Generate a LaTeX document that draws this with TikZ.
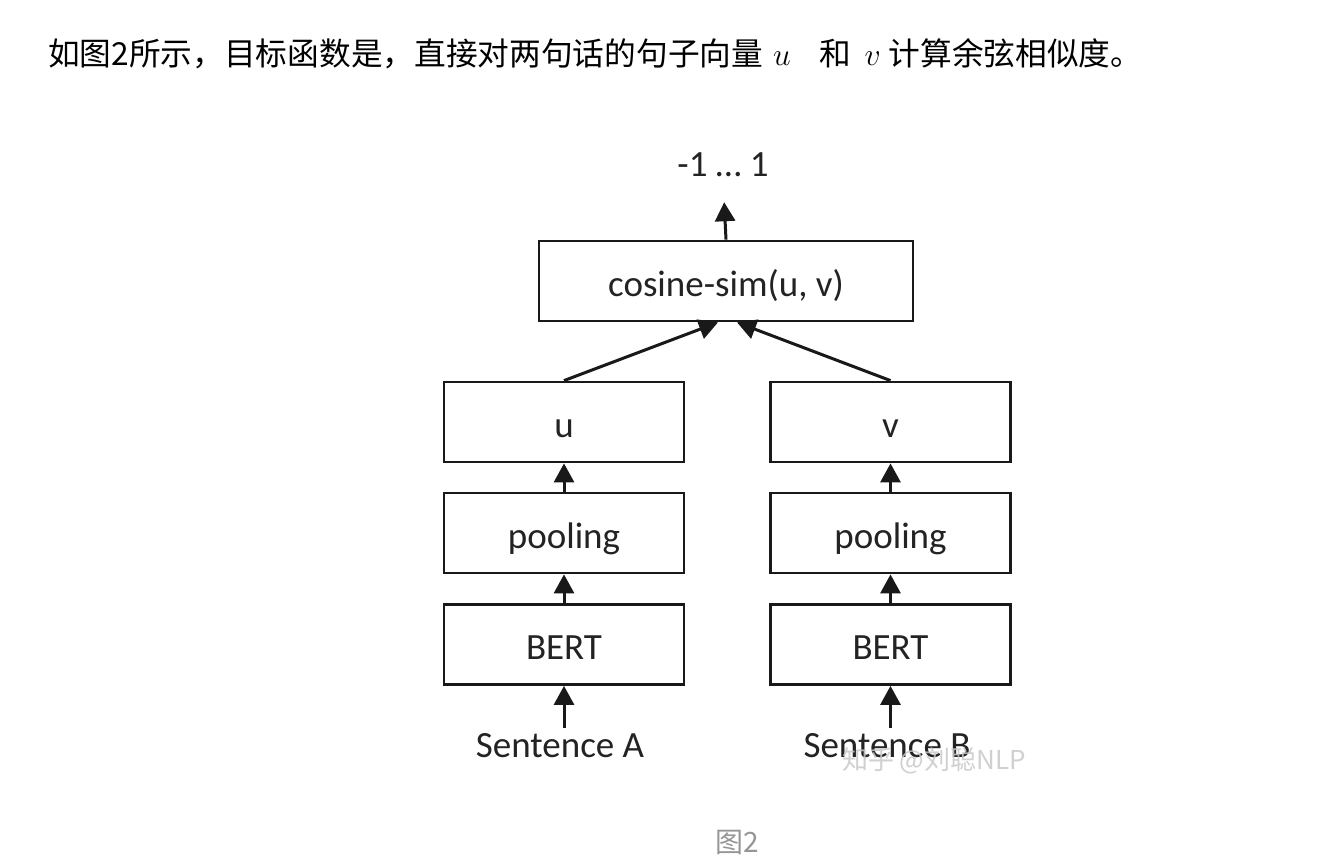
\documentclass[tikz,border=0pt]{standalone}
\usepackage{fix-cm}
\usepackage{fontspec}
\setmainfont{Carlito}
\newfontfamily\cjkfont{Noto Sans CJK SC}
\usetikzlibrary{arrows.meta}
\definecolor{LineGray}{RGB}{25,25,25}
\definecolor{LabelGray}{RGB}{35,35,35}
\definecolor{MarkGray}{RGB}{200,200,200}
\definecolor{CaptionGray}{RGB}{150,150,150}
\newcommand\diagfont{\fontsize{37}{44}\selectfont}

\tikzset{
  block/.style={draw=LineGray,line width=2.8pt,minimum width=240pt,minimum height=80pt,
                inner sep=0pt,text height=38pt,text depth=8pt,text=LabelGray,font=\diagfont},
  plain/.style={inner sep=1pt,text=LabelGray,font=\diagfont},
  flow/.style={draw=LineGray,line width=3pt,-{Triangle[width=20pt,length=19pt]}},
}

\begin{document}
\begin{tikzpicture}[x=1pt,y=-1pt]
    \useasboundingbox[fill=white] (0,0) rectangle (1342,864);

    % heading line
    \node[anchor=base west,inner sep=0pt,text=black,font=\cjkfont\fontsize{31.7}{36}\selectfont]
      (head) at (48,66) {如图2所示，目标函数是，直接对两句话的句子向量\hspace{10pt}$u$\hspace{29pt}和\hspace{13pt}$v$\hspace{8pt}计算余弦相似度。};

    % top of the network
    \node[plain] (out) at (723,165) {-1 … 1};
    \node[block,minimum width=374pt] (cos) at (726,281) {cosine-sim(u, v)};

    % left branch
    \node[block] (uvec)  at (564,422)   {u};
    \node[block] (poolA) at (564,533)   {pooling};
    \node[block] (bertA) at (564,644.5) {BERT};
    \node[plain,anchor=base] (sentA) at (560,757) {Sentence A};

    % right branch
    \node[block] (vvec)  at (890.5,422)   {v};
    \node[block] (poolB) at (890.5,533)   {pooling};
    \node[block] (bertB) at (890.5,644.5) {BERT};
    \node[plain,anchor=base] (sentB) at (887,757) {Sentence B};

    \draw[flow] ([yshift=4pt]sentA.north -| bertA.south) -- (bertA.south);
    \draw[flow] (bertA) -- (poolA);
    \draw[flow] (poolA) -- (uvec);
    \draw[flow] ([yshift=4pt]sentB.north -| bertB.south) -- (bertB.south);
    \draw[flow] (bertB) -- (poolB);
    \draw[flow] (poolB) -- (vvec);
    \draw[flow] (uvec.north) -- ([xshift=-8pt]cos.south);
    \draw[flow] (vvec.north) -- ([xshift=11pt]cos.south);
    \draw[flow,shorten >=24pt] (cos.north) -- (out.south);

    % watermark and caption
    \node[text=MarkGray,opacity=0.85,font=\cjkfont\fontsize{26}{30}\selectfont] (mark) at (934,761) {知乎 @刘聪NLP};
    \node[text=CaptionGray,font=\cjkfont\fontsize{28}{32}\selectfont] (cap) at (737,842) {图2};
\end{tikzpicture}
\end{document}
